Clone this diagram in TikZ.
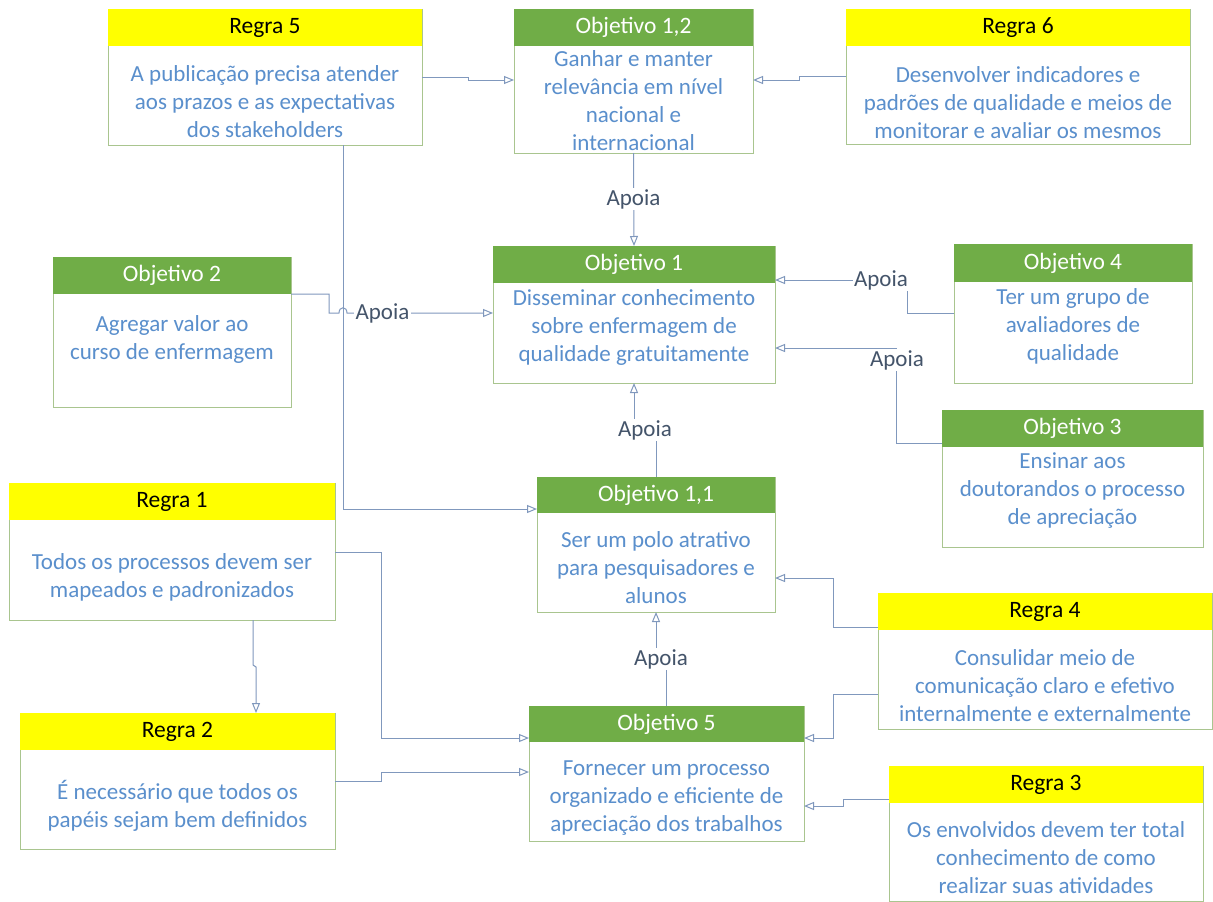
\documentclass[tikz,border=0pt]{standalone}
\usepackage{fontspec}
\setmainfont{Carlito}
\usetikzlibrary{arrows.meta}
\definecolor{hdgreen}{HTML}{70AD47}
\definecolor{hdyellow}{HTML}{FFFF00}
\definecolor{boxline}{HTML}{A9C58F}
\definecolor{bodyblue}{HTML}{5A8FCC}
\definecolor{connblue}{HTML}{8098BD}
\definecolor{apoiacol}{HTML}{44546A}
\newcommand\myBodyFont{\fontsize{23}{28}\selectfont}
\newcommand\myHeadFont{\fontsize{23.5}{28}\selectfont}
\tikzset{
  frame/.style={draw=boxline, line width=0.9pt, fill=white, inner sep=0pt, outer sep=0pt, anchor=north west},
  headY/.style={fill=hdyellow, text=black, inner sep=0pt, outer sep=0pt, anchor=north west, font=\myHeadFont},
  headG/.style={fill=hdgreen, text=white, inner sep=0pt, outer sep=0pt, anchor=north west, font=\myHeadFont},
  bodytxt/.style={text=bodyblue, align=center, font=\myBodyFont, inner sep=0pt},
  conn/.style={draw=connblue, line width=1pt, -{Triangle[open,length=10pt,width=8pt]}},
  plainconn/.style={draw=connblue, line width=1pt},
  apoia/.style={fill=white, text=apoiacol, font=\myBodyFont, inner sep=1.5pt},
}
\begin{document}
\begin{tikzpicture}[x=1pt,y=-1pt]
\fill[white] (0,0) rectangle (1213,902);
\useasboundingbox (0,0) rectangle (1213,902);

% Regra 5
\node[frame, minimum width=314pt, minimum height=136pt] (R5) at (108,9) {};
\node[headY, minimum width=314pt, minimum height=37pt] (R5h) at (108,9) {Regra 5};
\node[bodytxt] (R5t) at (265,102) {A publicação precisa atender\\aos prazos e as expectativas\\dos stakeholders};

% Objetivo 1,2
\node[frame, minimum width=239pt, minimum height=144pt] (O12) at (514,9) {};
\node[headG, minimum width=239pt, minimum height=37pt] (O12h) at (514,9) {Objetivo 1,2};
\node[bodytxt] (O12t) at (633.5,101) {Ganhar e manter\\relevância em nível\\nacional e\\internacional};

% Regra 6
\node[frame, minimum width=344pt, minimum height=135pt] (R6) at (846,9) {};
\node[headY, minimum width=344pt, minimum height=37pt] (R6h) at (846,9) {Regra 6};
\node[bodytxt] (R6t) at (1018,103) {Desenvolver indicadores e\\padrões de qualidade e meios de\\monitorar e avaliar os mesmos};

% Objetivo 2
\node[frame, minimum width=238pt, minimum height=150pt] (O2) at (53,257) {};
\node[headG, minimum width=238pt, minimum height=37pt] (O2h) at (53,257) {Objetivo 2};
\node[bodytxt] (O2t) at (172,339) {Agregar valor ao\\curso de enfermagem};

% Objetivo 1
\node[frame, minimum width=282pt, minimum height=137pt] (O1) at (493,246) {};
\node[headG, minimum width=282pt, minimum height=37pt] (O1h) at (493,246) {Objetivo 1};
\node[bodytxt] (O1t) at (634,327) {Disseminar conhecimento\\sobre enfermagem de\\qualidade gratuitamente};

% Objetivo 4
\node[frame, minimum width=238pt, minimum height=139pt] (O4) at (954,244) {};
\node[headG, minimum width=238pt, minimum height=38pt] (O4h) at (954,244) {Objetivo 4};
\node[bodytxt] (O4t) at (1073,326) {Ter um grupo de\\avaliadores de\\qualidade};

% Objetivo 3
\node[frame, minimum width=261pt, minimum height=137pt] (O3) at (942,410) {};
\node[headG, minimum width=261pt, minimum height=37pt] (O3h) at (942,410) {Objetivo 3};
\node[bodytxt] (O3t) at (1072.5,491) {Ensinar aos\\doutorandos o processo\\de apreciação};

% Objetivo 1,1
\node[frame, minimum width=238pt, minimum height=135pt] (O11) at (537,477) {};
\node[headG, minimum width=238pt, minimum height=36pt] (O11h) at (537,477) {Objetivo 1,1};
\node[bodytxt] (O11t) at (656,568) {Ser um polo atrativo\\para pesquisadores e\\alunos};

% Regra 1
\node[frame, minimum width=326pt, minimum height=137pt] (R1) at (9,483) {};
\node[headY, minimum width=326pt, minimum height=37pt] (R1h) at (9,483) {Regra 1};
\node[bodytxt] (R1t) at (172,577) {Todos os processos devem ser\\mapeados e padronizados};

% Regra 4
\node[frame, minimum width=334pt, minimum height=136pt] (R4) at (878,593) {};
\node[headY, minimum width=334pt, minimum height=37pt] (R4h) at (878,593) {Regra 4};
\node[bodytxt] (R4t) at (1045,686) {Consulidar meio de\\comunicação claro e efetivo\\internalmente e externalmente};

% Regra 2
\node[frame, minimum width=315pt, minimum height=136pt] (R2) at (20,713) {};
\node[headY, minimum width=315pt, minimum height=37pt] (R2h) at (20,713) {Regra 2};
\node[bodytxt] (R2t) at (177.5,806) {É necessário que todos os\\papéis sejam bem definidos};

% Objetivo 5
\node[frame, minimum width=275pt, minimum height=135pt] (O5) at (529,706) {};
\node[headG, minimum width=275pt, minimum height=36pt] (O5h) at (529,706) {Objetivo 5};
\node[bodytxt] (O5t) at (666.5,798) {Fornecer um processo\\organizado e eficiente de\\apreciação dos trabalhos};

% Regra 3
\node[frame, minimum width=314pt, minimum height=135pt] (R3) at (889,766) {};
\node[headY, minimum width=314pt, minimum height=37pt] (R3h) at (889,766) {Regra 3};
\node[bodytxt] (R3t) at (1046,858) {Os envolvidos devem ter total\\conhecimento de como\\realizar suas atividades};

% ---------- connectors ----------
\draw[conn] ([yshift=-68pt]R5.north east) -- ++(46,0) -- ++(0,3) -- ([yshift=-71pt]O12.north west);
\draw[conn] ([yshift=-67pt]R6.north west) -- ++(-47,0) -- ++(0,4) -- ([yshift=-71pt]O12.north east);
\draw[conn] (O12.south) -- (O1.north);
\draw[conn] (O11.north) -- ++(0,-47) -| (O1.south);
\draw[conn] (O5.north) -- ++(0,-47) -| (O11.south);
\draw[conn] ([xshift=-79pt]R5.south east) |- ([yshift=-32pt]O11.north west);
\draw[conn] (O2h.south east) -- ++(38,0) -- ++(0,19) -- ++(10,0)
  .. controls ++(0,-7) and ++(0,-7) .. ++(8,0) -- ([yshift=-67pt]O1.north west);
\draw[conn] ([yshift=-69pt]O4.north west) -- ++(-47,0) -- ++(0,-33) -- ([yshift=-34pt]O1.north east);
\draw[conn] ([yshift=-33pt]O3.north west) -- ++(-46,0) -- ++(0,-95) -- ([yshift=-102pt]O1.north east);
\draw[conn] ([yshift=-34pt]R4.north west) -- ++(-45,0) -- ++(0,-49) -- ([yshift=-101pt]O11.north east);
\draw[conn] ([yshift=-101pt]R4.north west) -- ++(-45,0) -- ++(0,44) -- ([yshift=-32pt]O5.north east);
\draw[conn] ([yshift=-33pt]R3.north west) -- ++(-46,0) -- ++(0,7) -- ([yshift=-100pt]O5.north east);
\draw[conn] ([yshift=-69pt]R1.north east) -- ++(46,0) -- ++(0,186) -- ([yshift=-32pt]O5.north west);
\draw[conn] ([yshift=-68pt]R2.north east) -- ++(46,0) -- ++(0,-9) -- ([yshift=-66pt]O5.north west);
\draw[conn] ([xshift=81pt]R1.south) -- ++(0,45) -- ++(3,2) -- ([xshift=78.5pt]R2.north);

% ---------- labels ----------
\node[apoia] (L1) at (633.5,199) {Apoia};
\node[apoia] (L2) at (645,430) {Apoia};
\node[apoia] (L3) at (661,659) {Apoia};
\node[apoia] (L4) at (382.5,313) {Apoia};
\node[apoia] (L5) at (881,280) {Apoia};
\node[apoia] (L6) at (897,360) {Apoia};
\end{tikzpicture}
\end{document}
